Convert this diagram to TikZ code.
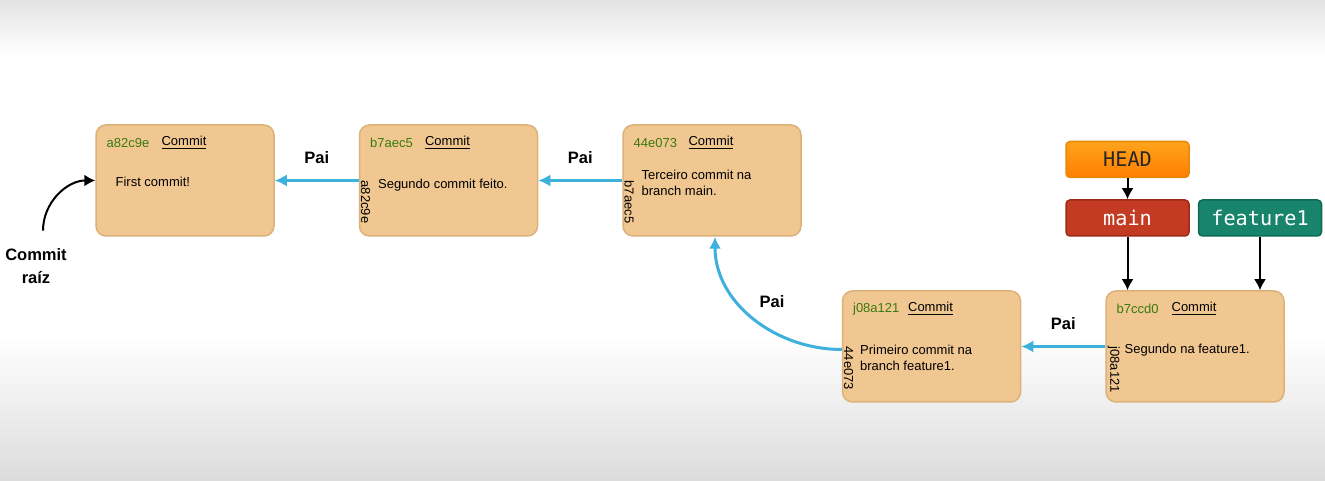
\documentclass[tikz,border=0pt]{standalone}
\usepackage{fontspec}
\setmainfont{Liberation Sans}
\setmonofont{DejaVu Sans Mono}
\usetikzlibrary{arrows.meta,positioning}
\definecolor{cmtfill}{HTML}{F0C791}
\definecolor{cmtborder}{HTML}{DDB27A}
\definecolor{hashgreen}{HTML}{3A7A10}
\definecolor{gitblue}{HTML}{3DB1DC}
\definecolor{headtop}{HTML}{FFA41C}
\definecolor{headbot}{HTML}{FF7E00}
\definecolor{headborder}{HTML}{E8870A}
\definecolor{mainred}{HTML}{C23B22}
\definecolor{mainborder}{HTML}{9E2A17}
\definecolor{featgreen}{HTML}{17846B}
\definecolor{featborder}{HTML}{0F6A55}
\definecolor{bggray}{HTML}{DCDCDC}

\begin{document}
\begin{tikzpicture}[
  every node/.style={font=\fontsize{7.4}{9.1}\selectfont},
  commit/.style={draw=cmtborder, fill=cmtfill, line width=0.03cm, rounded corners=0.2cm,
    minimum width=3.56cm, minimum height=2.22cm, inner sep=0pt},
  hashtxt/.style={text=hashgreen, anchor=west, inner sep=0pt},
  msg/.style={anchor=west, align=left, inner sep=0pt},
  parenthash/.style={rotate=-90, anchor=south west, inner sep=0pt},
  pai/.style={font=\fontsize{9.4}{11}\selectfont\bfseries, inner sep=0pt},
  parent/.style={draw=gitblue, line width=0.06cm, -{Latex[length=0.24cm,width=0.24cm]}},
  ref/.style={rounded corners=0.08cm, line width=0.03cm, minimum width=2.46cm,
    minimum height=0.72cm, inner sep=0pt, font=\fontsize{11.5}{13}\selectfont\ttfamily},
  pointer/.style={line width=0.04cm, -{Latex[length=0.22cm,width=0.24cm]}}
]

  % ---- Background ----
  \useasboundingbox (0,0) rectangle (26.5,9.62);
  \fill[white] (0,0) rectangle (26.5,9.62);
  \shade[top color=bggray!80, bottom color=white] (0,8.5) rectangle (26.5,9.62);
  \shade[top color=white, bottom color=bggray] (0,0) rectangle (26.5,2.9);

  % ---- Commits on main ----
  \node[commit] (c1) at (3.70,6.01) {};
  \node[commit, right=1.68cm of c1] (c2) {};
  \node[commit, right=1.68cm of c2] (c3) {};

  % ---- Commits on feature1 ----
  \node[commit] (c4) at (18.63,2.69) {};
  \node[commit, right=1.68cm of c4] (c5) {};

  % Header: hash + Commit
  \foreach \c/\h in {c1/a82c9e, c2/b7aec5, c3/44e073, c4/j08a121, c5/b7ccd0} {
    \node[hashtxt] (\c-hash) at ([shift={(0.22,-0.37)}]\c.north west) {\h};
    \node[msg] (\c-title) at ([shift={(1.32,-0.37)}]\c.north west) {\underline{Commit}};
  }
  % Parent hash on the left edge
  \foreach \c/\p in {c2/a82c9e, c3/b7aec5, c4/44e073, c5/j08a121} {
    \node[parenthash] (\c-parent) at ([shift={(0.04,-1.12)}]\c.north west) {\p};
  }

  % Messages
  \node[msg] (c1-msg) at ([shift={(0.40,-0.03)}]c1.west) {First commit!};
  \node[msg] (c2-msg) at ([shift={(0.38,-0.09)}]c2.west) {Segundo commit feito.};
  \node[msg] (c3-msg) at ([shift={(0.38,-0.05)}]c3.west) {Terceiro commit na\\branch main.};
  \node[msg] (c4-msg) at ([shift={(0.36,-0.23)}]c4.west) {Primeiro commit na\\branch feature1.};
  \node[msg] (c5-msg) at ([shift={(0.38,-0.07)}]c5.west) {Segundo na feature1.};

  % ---- Parent links ----
  \draw[parent] (c2) -- node[pai, above=0.3cm] (pai1) {Pai} (c1);
  \draw[parent] (c3) -- node[pai, above=0.3cm] (pai2) {Pai} (c2);
  \draw[parent] (c5) -- node[pai, above=0.3cm] (pai4) {Pai} (c4);
  \draw[parent] ([yshift=-0.06cm]c4.west) to[out=180, in=-90] ([xshift=0.06cm]c3.south);
  \node[pai] (pai3) at (15.44,3.58) {Pai};

  % ---- Root label ----
  \node[pai, align=center, font=\fontsize{9.4}{13}\selectfont\bfseries] (raiz) at (0.72,4.29) {Commit\\raíz};
  \draw[pointer] ([shift={(0.14,0.36)}]raiz.north) to[out=90, in=180] (c1.west);

  % ---- Refs ----
  \node[ref, fill=mainred, draw=mainborder, text=white] (main) at (22.55,5.26) {main};
  \node[ref, top color=headtop, bottom color=headbot, draw=headborder, text=black!85,
    above=0.42cm of main] (head) {HEAD};
  \node[ref, fill=featgreen, draw=featborder, text=white, right=0.16cm of main] (feat) {feature1};

  \draw[pointer] (head) -- (main);
  \draw[pointer] (main.south) -- (main.south |- c5.north);
  \draw[pointer] (feat.south) -- (feat.south |- c5.north);

\end{tikzpicture}
\end{document}
